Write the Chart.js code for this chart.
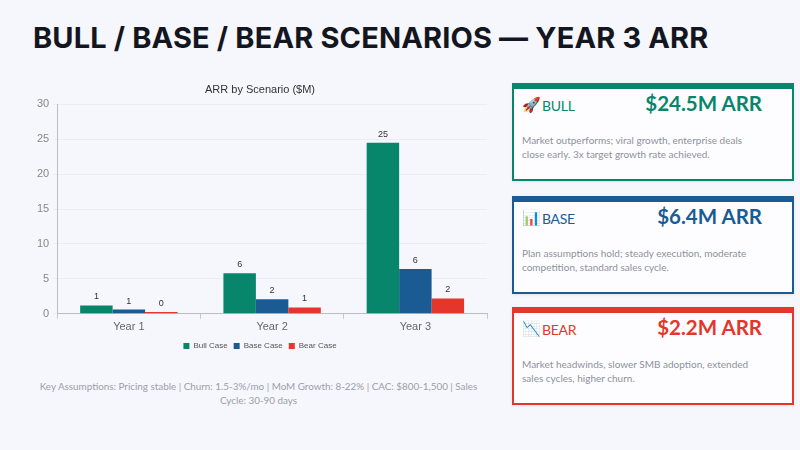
<!DOCTYPE html>
<html>
<head>
<meta charset="utf-8">
<script src="https://cdn.jsdelivr.net/npm/chart.js@4.4.1/dist/chart.umd.min.js"></script>
<style>
  html, body { margin: 0; padding: 0; }
  body { width: 800px; height: 450px; background: #f6f7fc; position: relative; overflow: hidden; font-family: Lato, "Open Sans", sans-serif; }
  h1 { position: absolute; left: 33px; top: 20px; margin: 0; font: 700 29px Inter, sans-serif; color: #13161f; letter-spacing: 0.15px; white-space: nowrap; }
  #chartBox { position: absolute; left: 28px; top: 75px; width: 470px; height: 285px; }
  .footer { position: absolute; left: 31px; top: 379px; width: 455px; text-align: center; font-size: 9.85px; line-height: 14px; color: #9a9ea8; }
  .card { position: absolute; left: 512px; width: 278px; height: 90px; background: #fdfdff; border: 2px solid; border-top-width: 6px; box-shadow: 0 1px 3px rgba(0,0,0,0.08); }
  .card .head { position: absolute; left: 8px; top: 2px; right: 30px; height: 28px; }
  .card .icon { position: absolute; left: 0; top: 4px; font-size: 15px; }
  .card .name { position: absolute; left: 20px; top: 6px; font-size: 14px; letter-spacing: -0.3px; }
  .card .val { position: absolute; right: 0; top: 0px; font-size: 20.5px; font-weight: 700; }
  .card .desc { position: absolute; left: 8px; top: 44px; right: 30px; font-size: 10px; line-height: 14px; color: #8d919b; }
</style>
</head>
<body>
<h1>BULL / BASE / BEAR SCENARIOS — YEAR 3 ARR</h1>
<div id="chartBox"><canvas id="arrChart"></canvas></div>
<div class="footer">Key Assumptions: Pricing stable | Churn: 1.5-3%/mo | MoM Growth: 8-22% | CAC: $800-1,500 | Sales Cycle: 30-90 days</div>
<div id="cards"></div>

<script>
// chart data
const years = ['Year 1', 'Year 2', 'Year 3'];
const bullCase = [1.2, 5.8, 24.5];
const baseCase = [0.6, 2.1, 6.4];
const bearCase = [0.25, 0.9, 2.2];
const yTicks = [0, 5, 10, 15, 20, 25, 30];

// scenario cards
const cardNames = ['BULL', 'BASE', 'BEAR'];
const cardIcons = ['🚀', '📊', '📉'];
const cardValues = ['$24.5M ARR', '$6.4M ARR', '$2.2M ARR'];
const cardDescs = [
    'Market outperforms; viral growth, enterprise deals close early. 3x target growth rate achieved.',
    'Plan assumptions hold; steady execution, moderate competition, standard sales cycle.',
    'Market headwinds, slower SMB adoption, extended sales cycles, higher churn.'
];

const GREEN = '#07866b';
const BLUE = '#1a5b94';
const RED = '#e5362b';
const cardColors = [GREEN, BLUE, RED];
const cardTops = [83, 196, 307];

document.getElementById('cards').innerHTML = cardNames.map((n, i) => `
    <div class="card" style="top:${cardTops[i]}px; border-color:${cardColors[i]};">
        <div class="head">
            <span class="icon">${cardIcons[i]}</span>
            <span class="name" style="color:${cardColors[i]};">${n}</span>
            <span class="val" style="color:${cardColors[i]};">${cardValues[i]}</span>
        </div>
        <div class="desc">${cardDescs[i]}</div>
    </div>
`).join('');

// values above bars, rounded like the original
const barLabels = {
    id: 'barLabels',
    afterDatasetsDraw(chart) {
        const ctx = chart.ctx;
        ctx.save();
        ctx.font = '9px "Liberation Sans", Arial, sans-serif';
        ctx.fillStyle = '#333';
        ctx.textAlign = 'center';
        ctx.textBaseline = 'bottom';
        chart.data.datasets.forEach((ds, i) => {
            chart.getDatasetMeta(i).data.forEach((bar, j) => {
                ctx.fillText(Math.round(ds.data[j]), bar.x, bar.y - 4);
            });
        });
        ctx.restore();
    }
};

new Chart(document.getElementById('arrChart'), {
    type: 'bar',
    data: {
        labels: years,
        datasets: [
            { label: 'Bull Case', data: bullCase, backgroundColor: GREEN },
            { label: 'Base Case', data: baseCase, backgroundColor: BLUE },
            { label: 'Bear Case', data: bearCase, backgroundColor: RED }
        ]
    },
    options: {
        responsive: true,
        maintainAspectRatio: false,
        animation: false,
        layout: { padding: { left: 5, right: 11, top: 2, bottom: 0 } },
        datasets: { bar: { barPercentage: 1, categoryPercentage: 0.68 } },
        plugins: {
            title: { display: true, text: 'ARR by Scenario ($M)', color: '#333', font: { family: '"Liberation Sans", Arial', size: 11, weight: 'normal' }, padding: { top: 6, bottom: 8 } },
            legend: {
                position: 'bottom',
                labels: { boxWidth: 6, boxHeight: 6, color: '#555', font: { family: '"Liberation Sans", Arial', size: 8 }, padding: 6 }
            },
            tooltip: { enabled: false }
        },
        scales: {
            x: {
                grid: { display: true, drawOnChartArea: false, offset: true, tickLength: 5, color: '#c8c8c8' },
                border: { color: '#bdbdbd' },
                ticks: { color: '#666', padding: 2, font: { family: '"Liberation Sans", Arial', size: 11 } }
            },
            y: {
                min: 0, max: 30,
                afterBuildTicks: (axis) => { axis.ticks = yTicks.map(v => ({ value: v })); },
                grid: { color: '#ececf2', tickLength: 4 },
                border: { color: '#bdbdbd' },
                ticks: { color: '#888', padding: 4, font: { family: '"Liberation Sans", Arial', size: 11 } }
            }
        }
    },
    plugins: [barLabels]
});
</script>
</body>
</html>
